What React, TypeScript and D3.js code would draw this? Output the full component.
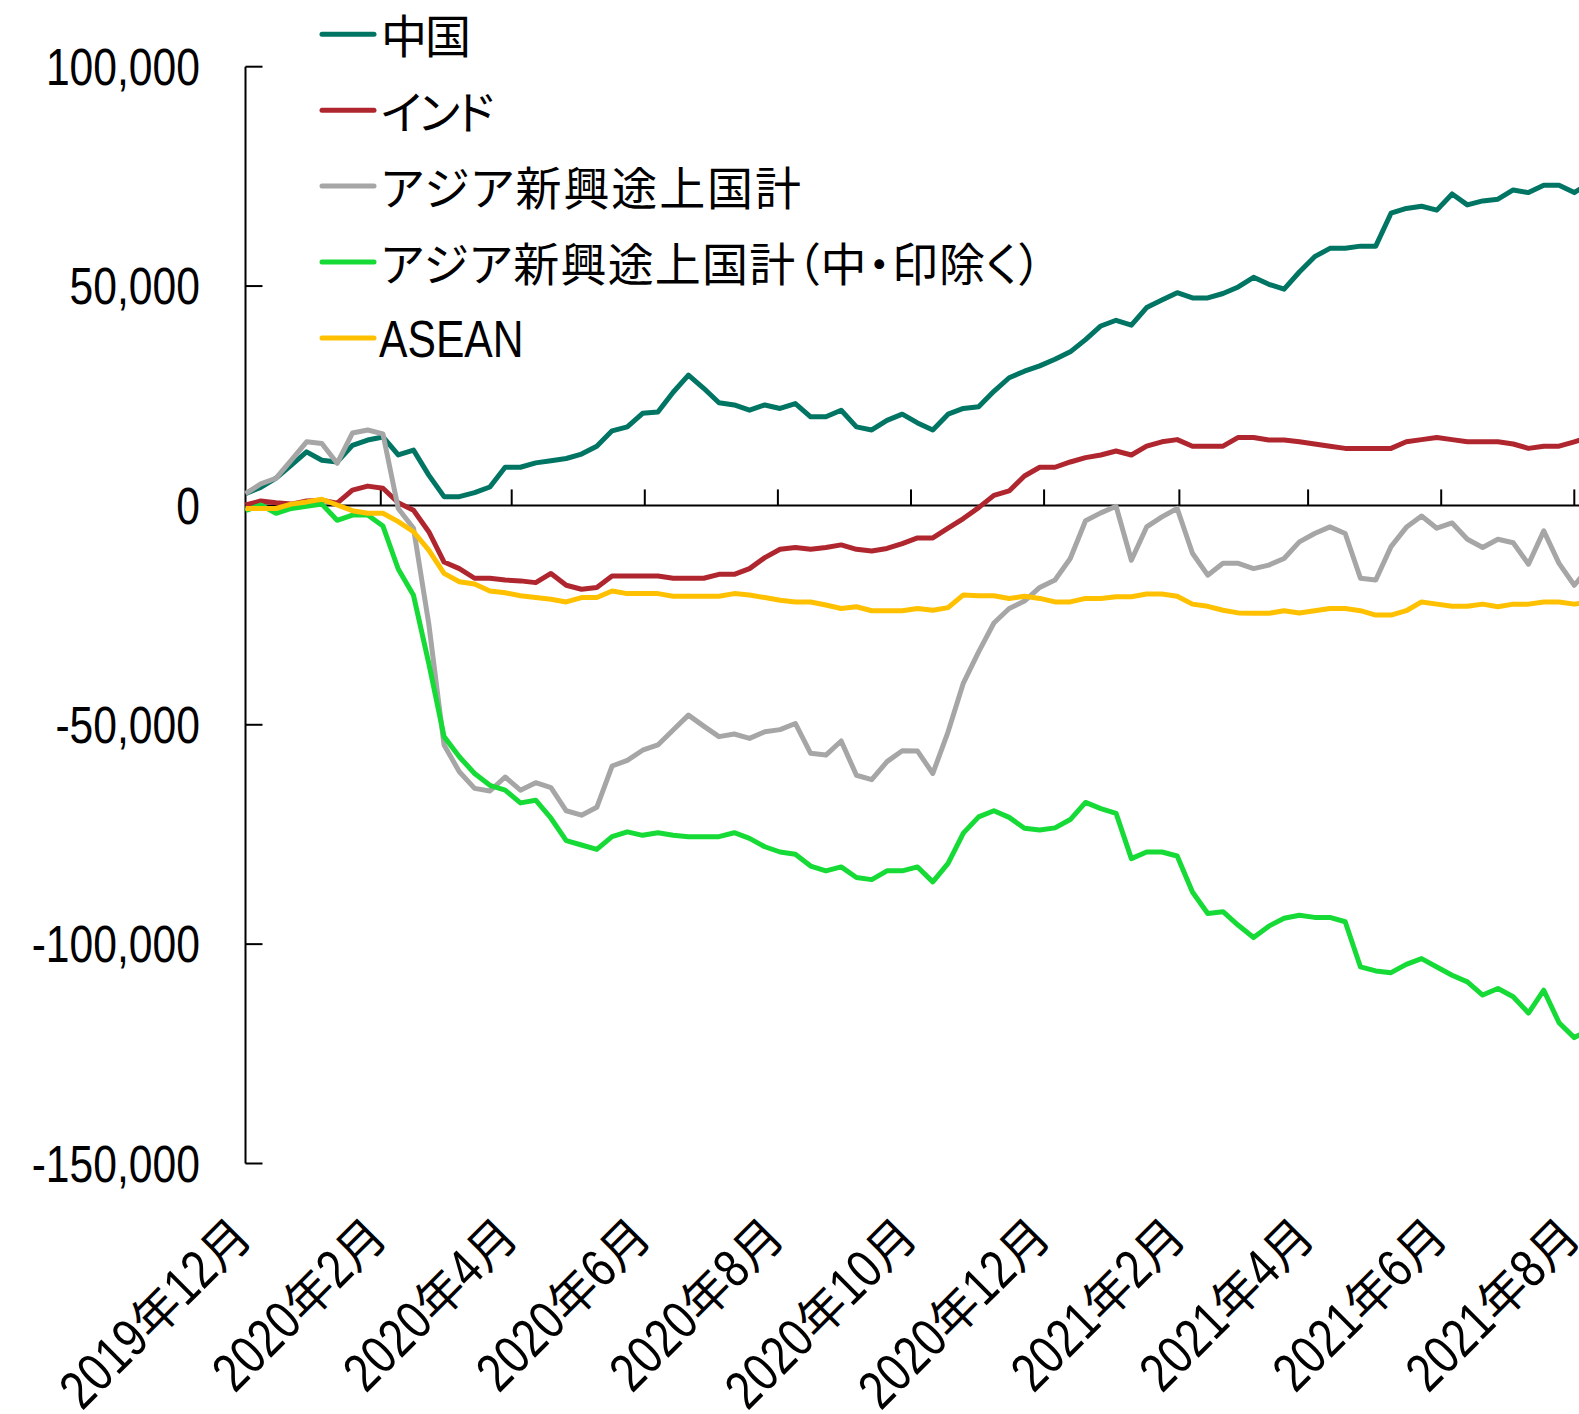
import React, { useRef, useEffect } from "react";
import * as d3 from "d3";

// weekly observations (thousand units), first point = 2019-12-01
const weeks = d3.utcSunday.range(new Date(Date.UTC(2019, 11, 1)), new Date(Date.UTC(2021, 7, 15)));

const tickDates = [
  "2019-12-01", "2020-02-01", "2020-04-01", "2020-06-01", "2020-08-01", "2020-10-01",
  "2020-12-01", "2021-02-01", "2021-04-01", "2021-06-01", "2021-08-01",
];
const tickLabels = [
  "2019年12月", "2020年2月", "2020年4月", "2020年6月", "2020年8月", "2020年10月",
  "2020年12月", "2021年2月", "2021年4月", "2021年6月", "2021年8月",
];
const yTicks = [100000, 50000, 0, -50000, -100000, -150000];

const china = [
  2.7, 4.1, 6.2, 9.2, 12.2, 10.3, 9.9, 13.7, 14.9, 15.6,
  11.5, 12.6, 6.9, 2.0, 2.0, 2.9, 4.2, 8.7, 8.7, 9.7,
  10.2, 10.7, 11.7, 13.5, 17.0, 17.9, 21.0, 21.3, 25.8, 29.7,
  26.7, 23.4, 22.9, 21.7, 22.9, 22.1, 23.2, 20.2, 20.2, 21.7,
  17.9, 17.2, 19.4, 20.8, 18.8, 17.2, 20.8, 22.1, 22.5, 26.0,
  29.1, 30.6, 31.8, 33.3, 35.0, 37.8, 40.9, 42.2, 41.1, 45.1,
  46.8, 48.5, 47.3, 47.3, 48.3, 49.8, 52.0, 50.4, 49.3, 53.2,
  56.7, 58.6, 58.6, 59.1, 59.1, 66.6, 67.7, 68.2, 67.3, 71.0,
  68.5, 69.4, 69.8, 71.9, 71.3, 73.0, 73.0, 71.3, 73.5,
];
const india = [
  0.1, 1.0, 0.6, 0.3, 1.0, 1.2, 0.5, 3.5, 4.4, 3.9,
  0.6, -1.1, -6.0, -12.9, -14.4, -16.6, -16.6, -17.0, -17.2, -17.6,
  -15.5, -18.2, -19.1, -18.7, -16.1, -16.1, -16.1, -16.1, -16.6, -16.6,
  -16.6, -15.7, -15.7, -14.4, -11.9, -10.0, -9.6, -10.0, -9.6, -9.0,
  -10.0, -10.4, -9.8, -8.7, -7.4, -7.4, -5.2, -3.0, -0.5, 2.3,
  3.3, 6.7, 8.7, 8.7, 9.9, 10.9, 11.5, 12.4, 11.5, 13.5,
  14.5, 15.0, 13.5, 13.5, 13.5, 15.5, 15.5, 14.9, 14.9, 14.5,
  14.0, 13.5, 13.0, 13.0, 13.0, 13.0, 14.5, 15.0, 15.5, 15.0,
  14.5, 14.5, 14.5, 14.0, 13.0, 13.5, 13.5, 14.5, 15.5,
];
const asiaTotal = [
  2.7, 4.9, 6.2, 10.3, 14.5, 14.1, 9.6, 16.5, 17.2, 16.3,
  -0.7, -5.2, -27.0, -54.6, -60.7, -64.5, -65.1, -61.9, -64.9, -63.2,
  -64.3, -69.6, -70.6, -68.8, -59.4, -58.1, -55.8, -54.6, -51.2, -47.8,
  -50.3, -52.7, -52.1, -53.1, -51.6, -51.1, -49.7, -56.5, -56.9, -53.7,
  -61.5, -62.5, -58.4, -55.9, -56.0, -61.1, -51.6, -40.5, -33.4, -26.8,
  -23.5, -21.8, -18.7, -17.0, -12.1, -3.5, -1.7, -0.2, -12.5, -4.9,
  -2.6, -0.7, -10.9, -15.9, -13.2, -13.2, -14.4, -13.6, -12.1, -8.3,
  -6.4, -4.9, -6.4, -16.6, -17.0, -9.4, -5.0, -2.4, -5.2, -4.0,
  -7.7, -9.6, -7.7, -8.5, -13.4, -5.8, -13.2, -18.2, -14.0,
];
const asiaExChinaIndia = [
  -1.2, 0.1, -1.8, -0.7, -0.2, 0.3, -3.4, -2.2, -2.2, -4.7,
  -14.5, -20.5, -36.0, -52.7, -57.3, -61.1, -63.8, -64.9, -67.8, -67.2,
  -71.3, -76.4, -77.4, -78.4, -75.5, -74.4, -75.2, -74.6, -75.2, -75.5,
  -75.5, -75.5, -74.6, -75.9, -77.8, -79.0, -79.5, -82.2, -83.3, -82.4,
  -84.8, -85.3, -83.3, -83.3, -82.4, -85.8, -81.6, -74.7, -71.0, -69.6,
  -71.1, -73.6, -74.0, -73.5, -71.6, -67.7, -69.1, -70.2, -80.5, -79.0,
  -79.0, -79.9, -88.1, -93.0, -92.6, -95.7, -98.5, -95.9, -94.1, -93.4,
  -93.9, -93.9, -94.9, -105.2, -106.1, -106.5, -104.6, -103.3, -105.2, -107.1,
  -108.6, -111.6, -110.1, -112.0, -115.7, -110.5, -117.9, -121.3, -119.5,
];
const asean = [
  -0.7, -0.7, -0.7, 0.3, 0.8, 1.4, 0.1, -1.2, -1.8, -1.8,
  -3.7, -6.0, -10.2, -15.5, -17.4, -17.9, -19.5, -19.9, -20.6, -21.0,
  -21.4, -22.0, -21.0, -21.0, -19.5, -20.1, -20.1, -20.1, -20.7, -20.7,
  -20.7, -20.7, -20.1, -20.4, -21.0, -21.6, -22.0, -22.0, -22.7, -23.5,
  -23.1, -24.0, -24.0, -24.0, -23.5, -23.9, -23.3, -20.4, -20.6, -20.6,
  -21.2, -20.7, -21.2, -22.0, -22.0, -21.2, -21.2, -20.8, -20.8, -20.2,
  -20.2, -20.7, -22.5, -23.0, -23.9, -24.5, -24.6, -24.6, -24.0, -24.5,
  -24.0, -23.5, -23.5, -24.0, -25.0, -25.0, -24.0, -22.0, -22.5, -23.0,
  -23.0, -22.5, -23.1, -22.5, -22.5, -22.0, -22.0, -22.5, -22.0,
];

const seriesNames = ["中国", "インド", "アジア新興途上国計", "アジア新興途上国計（中・印除く）", "ASEAN"];
const seriesValues = [china, india, asiaTotal, asiaExChinaIndia, asean];
const seriesColors = ["#007563", "#B0262F", "#A6A6A6", "#16DB37", "#FFC000"];
// rendered widths of the japanese legend labels in the original (proportional font)
const legendWidths = [90, 113, 420, 661, null];

const LATIN = "'Liberation Sans', Arial, sans-serif";
const CJK = "'Noto Sans CJK JP', sans-serif";
const NARROW = 0.82; // condense latin glyphs like Arial Narrow

// lay out a mixed latin / japanese string starting at x = 0, returns its width
const drawMixed = (g, str, latinSize, cjkSize) => {
  const runs = str.match(/[0-9A-Za-z,.\-]+|[^0-9A-Za-z,.\-]+/g) || [];
  let cx = 0;
  runs.forEach(r => {
    const latin = /^[0-9A-Za-z,.\-]+$/.test(r);
    const t = g.append("text")
      .attr("font-family", latin ? LATIN : CJK)
      .attr("font-size", latin ? latinSize : cjkSize)
      .text(r);
    if (!latin) t.style("font-feature-settings", "'palt'");
    const w = t.node().getComputedTextLength() * (latin ? NARROW : 1);
    t.attr("transform", `translate(${cx},0)` + (latin ? ` scale(${NARROW},1)` : ""));
    cx += w;
  });
  return cx;
};

const App = () => {
  const svgRef = useRef();
  const W = 1579, H = 1414;

  useEffect(() => {
    const draw = () => {
      const svg = d3.select(svgRef.current);
      svg.selectAll("*").remove();

      const x = d3.scaleUtc()
        .domain([new Date(Date.UTC(2019, 11, 1)), new Date(Date.UTC(2021, 7, 1))])
        .range([245.5, 1574.3]);
      const y = d3.scaleLinear().domain([-150000, 100000]).range([1163.5, 66.7]);

      const fmt = d3.formatLocale({ decimal: ".", thousands: ",", grouping: [3], currency: ["", ""], minus: "-" }).format(",");

      // y axis, ticks point inward
      const ya = svg.append("g");
      ya.append("line")
        .attr("x1", x.range()[0]).attr("x2", x.range()[0])
        .attr("y1", y(100000)).attr("y2", y(-150000))
        .attr("stroke", "#000").attr("stroke-width", 2);
      yTicks.forEach(t => {
        ya.append("line")
          .attr("x1", x.range()[0]).attr("x2", x.range()[0] + 17)
          .attr("y1", y(t)).attr("y2", y(t))
          .attr("stroke", "#000").attr("stroke-width", 2);
        ya.append("text")
          .attr("transform", `translate(200,${y(t)}) scale(${NARROW},1)`)
          .attr("dy", "0.35em")
          .attr("text-anchor", "end")
          .attr("font-family", LATIN).attr("font-size", 52)
          .text(fmt(t));
      });

      // x axis sits on the zero line, ticks point up
      const xa = svg.append("g");
      xa.append("line")
        .attr("x1", x.range()[0]).attr("x2", W + 5)
        .attr("y1", y(0)).attr("y2", y(0))
        .attr("stroke", "#000").attr("stroke-width", 2);
      tickDates.forEach((d, i) => {
        const tx = x(new Date(d + "T00:00:00Z"));
        if (i > 0) {
          xa.append("line")
            .attr("x1", tx).attr("x2", tx)
            .attr("y1", y(0)).attr("y2", y(0) - 16)
            .attr("stroke", "#000").attr("stroke-width", 2);
        }
        const g = xa.append("g").attr("transform", `translate(${tx + 9},1239) rotate(-45)`);
        const inner = g.append("g");
        const w = drawMixed(inner, tickLabels[i], 54, 48);
        inner.attr("transform", `translate(${-w},0)`);
      });

      // series
      const line = d3.line()
        .x((d, i) => x(weeks[i]))
        .y(d => y(d * 1000));
      seriesValues.forEach((vals, s) => {
        svg.append("path")
          .attr("d", line(vals))
          .attr("fill", "none")
          .attr("stroke", seriesColors[s])
          .attr("stroke-width", 5)
          .attr("stroke-linejoin", "round");
      });

      // legend
      const lg = svg.append("g");
      seriesNames.forEach((name, i) => {
        const ly = 34.3 + i * 75.9;
        lg.append("line")
          .attr("x1", 322).attr("x2", 374)
          .attr("y1", ly).attr("y2", ly)
          .attr("stroke", seriesColors[i])
          .attr("stroke-width", 5)
          .attr("stroke-linecap", "round");
        if (legendWidths[i]) {
          lg.append("text")
            .attr("x", 381).attr("y", ly + 19)
            .attr("font-family", CJK).attr("font-size", 46)
            .attr("textLength", legendWidths[i])
            .attr("lengthAdjust", "spacing")
            .style("font-feature-settings", "'palt'")
            .text(name);
        } else {
          const g = lg.append("g").attr("transform", `translate(379,${ly + 19})`);
          drawMixed(g, name, 52, 46);
        }
      });
    };

    draw();
    if (document.fonts && document.fonts.ready) document.fonts.ready.then(draw);
  }, []);

  return (
    <svg
      ref={svgRef}
      width={W}
      height={H}
      style={{ position: "absolute", left: 0, top: 0, background: "#fff" }}
    />
  );
};

export default App;
